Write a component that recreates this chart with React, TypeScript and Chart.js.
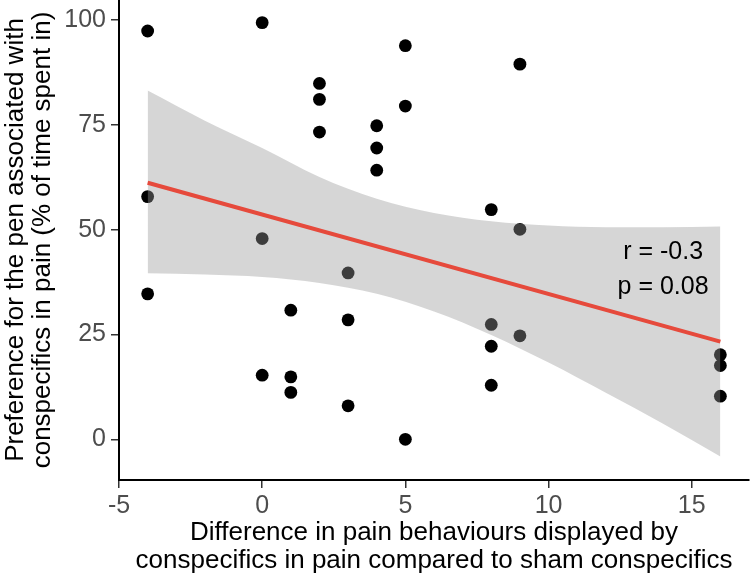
import React, { useEffect, useRef } from "react";
import { Chart, registerables } from "chart.js";

Chart.register(...registerables);

// Observed points
const xValues = [-4, -4, -4, 0, 0, 0, 1, 1, 1, 2, 2, 2, 3, 3, 3, 4, 4, 4, 5, 5, 5, 8, 8, 8, 8, 9, 9, 9, 16, 16, 16];
const yValues = [97.4, 57.9, 34.7, 99.4, 47.9, 15.3, 30.8, 14.9, 11.2, 84.9, 81.1, 73.3, 39.7, 28.5, 8.0, 74.8, 69.5, 64.2, 93.9, 79.5, 0, 54.8, 27.4, 22.2, 12.9, 89.5, 50.1, 24.7, 20.2, 17.6, 10.3];

// Fitted regression line (endpoints)
const fitX = [-4, 16];
const fitY = [61.2, 23.3];

// Confidence band
const bandX = [-4, -2, 0, 2, 4, 6, 8, 10, 12, 14, 16];
const bandUpper = [83.2, 76.0, 69.5, 62.6, 57.4, 54.0, 52.0, 51.0, 50.6, 50.6, 50.8];
const bandLower = [39.6, 39.3, 38.7, 37.3, 34.7, 30.5, 24.9, 18.3, 11.1, 3.7, -4.1];

// Axes
const xTicks = [-5, 0, 5, 10, 15];
const yTicks = [0, 25, 50, 75, 100];
const xRange = [-5, 17];
const yRange = [-9.7, 104.8];
const xTitle = ["Difference in pain behaviours displayed by", "conspecifics in pain compared to sham conspecifics"];
const yTitle = ["Preference for the pen associated with", "conspecifics in pain (% of time spent in)"];

// Annotation
const noteLabels = ["r = -0.3", "p = 0.08"];
const noteX = [14, 14];
const noteY = [44.7, 36.3];

const FONT = "'Liberation Sans', Arial, Helvetica, sans-serif";

const notePlugin = {
  id: "notes",
  afterDatasetsDraw(chart: any) {
    const { ctx, scales } = chart;
    ctx.save();
    ctx.fillStyle = "#000000";
    ctx.font = `25px ${FONT}`;
    ctx.textAlign = "center";
    ctx.textBaseline = "middle";
    noteLabels.forEach((t, i) => {
      ctx.fillText(t, scales.x.getPixelForValue(noteX[i]), scales.y.getPixelForValue(noteY[i]));
    });
    ctx.restore();
  },
};

export default function App() {
  const ref = useRef<HTMLCanvasElement | null>(null);

  useEffect(() => {
    if (!ref.current) return;
    const chart = new Chart(ref.current, {
      type: "scatter",
      data: {
        datasets: [
          {
            label: "points",
            data: xValues.map((x, i) => ({ x, y: yValues[i] })),
            backgroundColor: "#000000",
            borderWidth: 0,
            pointRadius: 6.4,
            order: 3,
          },
          {
            label: "lower",
            data: bandX.map((x, i) => ({ x, y: bandLower[i] })),
            showLine: true,
            borderWidth: 0,
            borderColor: "rgba(0,0,0,0)",
            pointRadius: 0,
            cubicInterpolationMode: "monotone",
            fill: false,
            order: 2,
          },
          {
            label: "upper",
            data: bandX.map((x, i) => ({ x, y: bandUpper[i] })),
            showLine: true,
            borderWidth: 0,
            borderColor: "rgba(0,0,0,0)",
            backgroundColor: "rgba(153,153,153,0.4)",
            pointRadius: 0,
            cubicInterpolationMode: "monotone",
            fill: "-1",
            order: 1,
          },
          {
            label: "fit",
            data: fitX.map((x, i) => ({ x, y: fitY[i] })),
            showLine: true,
            borderColor: "#e64a3c",
            borderWidth: 4,
            pointRadius: 0,
            fill: false,
            order: 0,
          },
        ] as any,
      },
      options: {
        animation: false,
        responsive: false,
        devicePixelRatio: 1,
        layout: { autoPadding: false, padding: { top: 0, right: 1, bottom: 0, left: 0 } },
        plugins: {
          legend: { display: false },
          tooltip: { enabled: false },
        },
        scales: {
          x: {
            type: "linear",
            min: xRange[0],
            max: xRange[1],
            afterBuildTicks: (s: any) => {
              s.ticks = xTicks.map((v) => ({ value: v }));
            },
            afterFit: (s: any) => {
              s.height = 99;
              s.paddingLeft = 0;
              s.paddingRight = 0;
            },
            border: { display: true, color: "#000000", width: 2 },
            grid: { drawOnChartArea: false, drawTicks: true, tickLength: 8, color: "#333333", lineWidth: 1.5 },
            ticks: {
              color: "#4d4d4d",
              font: { family: FONT, size: 25 },
              padding: 3,
              maxRotation: 0,
            },
            title: {
              display: true,
              text: xTitle,
              color: "#000000",
              font: { family: FONT, size: 26, lineHeight: 1.05 },
              padding: { top: 0, bottom: 5 },
            },
          },
          y: {
            type: "linear",
            min: yRange[0],
            max: yRange[1],
            afterBuildTicks: (s: any) => {
              s.ticks = yTicks.map((v) => ({ value: v }));
            },
            afterFit: (s: any) => {
              s.width = 119;
              s.paddingTop = 0;
              s.paddingBottom = 0;
            },
            border: { display: true, color: "#000000", width: 2 },
            grid: { drawOnChartArea: false, drawTicks: true, tickLength: 8, color: "#333333", lineWidth: 1.5 },
            ticks: {
              color: "#4d4d4d",
              font: { family: FONT, size: 25 },
              padding: 5,
            },
            title: {
              display: true,
              text: yTitle,
              color: "#000000",
              font: { family: FONT, size: 26, lineHeight: 1.05 },
              padding: { top: 2, bottom: 0 },
            },
          },
        },
      } as any,
      plugins: [notePlugin],
    });
    return () => chart.destroy();
  }, []);

  return (
    <div style={{ position: "fixed", left: 0, top: 0, width: 750, height: 579, background: "#ffffff" }}>
      <canvas ref={ref} width={750} height={579} style={{ display: "block" }} />
    </div>
  );
}
